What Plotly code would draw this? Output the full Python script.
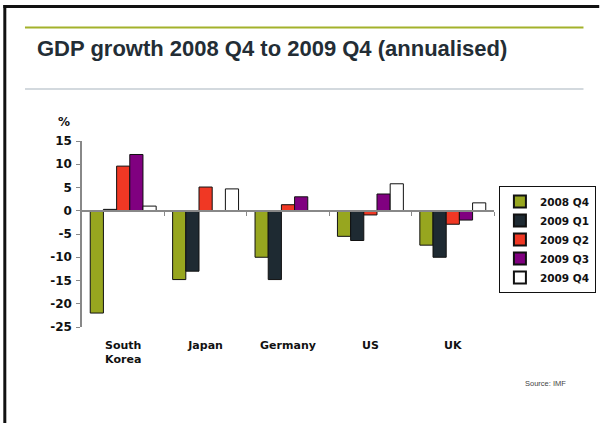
import plotly.graph_objects as go

# GDP growth, annualised, % (source: IMF)
countries = ["South<br>Korea", "Japan", "Germany", "US", "UK"]
quarters = ["2008 Q4", "2009 Q1", "2009 Q2", "2009 Q3", "2009 Q4"]
q4_2008 = [-22.0, -14.8, -10.0, -5.5, -7.4]
q1_2009 = [0.3, -13.0, -14.8, -6.4, -10.0]
q2_2009 = [9.6, 5.1, 1.3, -0.9, -2.9]
q3_2009 = [12.1, 0.0, 3.0, 3.6, -2.0]
q4_2009 = [1.0, 4.7, 0.0, 5.8, 1.7]
series = [q4_2008, q1_2009, q2_2009, q3_2009, q4_2009]
colors = ["#97a61f", "#1e2a32", "#f03824", "#800080", "#ffffff"]

y_ticks = [15, 10, 5, 0, -5, -10, -15, -20, -25]
y_range = [-25, 15]

W, H = 608, 423
L, R, T, B = 82, 107, 141, 96

fig = go.Figure()
for name, vals, col in zip(quarters, series, colors):
    fig.add_trace(go.Bar(
        x=countries, y=vals, name=name,
        marker=dict(color=col, line=dict(color="#111111", width=1)),
    ))

tick_font = dict(family="DejaVu Sans", size=12, color="#111111", weight="bold")

# zero line with category boundary ticks
zero_pos = (0 - y_range[0]) / (y_range[1] - y_range[0])
fig.add_trace(go.Scatter(x=[-0.5, 4.5], y=[0, 0], xaxis="x2", mode="lines",
                         line=dict(width=0), showlegend=False, hoverinfo="skip"))

fig.update_layout(
    width=W, height=H,
    margin=dict(l=L, r=R, t=T, b=B, pad=0),
    paper_bgcolor="white", plot_bgcolor="white",
    barmode="group", bargap=0.2, bargroupgap=0,
    showlegend=True,
    legend=dict(
        x=(506 - L) / (W - L - R), y=(H - B - 186) / (H - T - B),
        xref="paper", yref="paper", xanchor="left", yanchor="top",
        bordercolor="#111111", borderwidth=1, bgcolor="white",
        font=dict(family="DejaVu Sans", size=10.5, color="#111111", weight="bold"),
        tracegroupgap=0, itemsizing="constant",
    ),
    title=dict(
        text="GDP growth 2008 Q4 to 2009 Q4 (annualised)",
        xref="container", yref="container",
        x=37 / W, xanchor="left", y=1 - 48 / H, yanchor="middle",
        font=dict(family="Liberation Sans, Arial", size=22, color="#232d35", weight="bold"),
    ),
    xaxis=dict(
        type="category", showline=False, ticks="", showgrid=False, zeroline=False,
        tickfont=dict(family="DejaVu Sans", size=11, color="#111111", weight="bold"),
        ticklabelstandoff=10,
    ),
    xaxis2=dict(
        overlaying="x", anchor="free", position=zero_pos, range=[-0.5, 4.5],
        showline=True, linecolor="#888888", linewidth=1.5,
        ticks="outside", ticklen=4, tickcolor="#888888", tickwidth=1,
        tickvals=[0.5, 1.5, 2.5, 3.5, 4.5], showticklabels=False,
        showgrid=False, zeroline=False,
    ),
    yaxis=dict(
        range=y_range, tickvals=y_ticks, ticktext=[str(v) for v in y_ticks],
        showline=True, linecolor="#888888", linewidth=1.5,
        ticks="outside", ticklen=4, tickcolor="#888888",
        showgrid=False, zeroline=False, tickfont=tick_font, ticklabelstandoff=2,
    ),
)

px_x = lambda p: (p - L) / (W - L - R)
px_y = lambda p: (H - B - p) / (H - T - B)

# page frame and header rules
fig.add_shape(type="line", xref="paper", yref="paper", x0=px_x(2), x1=px_x(608),
              y0=px_y(6.5), y1=px_y(6.5), line=dict(color="#111111", width=3))
fig.add_shape(type="line", xref="paper", yref="paper", x0=px_x(3.5), x1=px_x(3.5),
              y0=px_y(5), y1=px_y(423), line=dict(color="#111111", width=3))
fig.add_shape(type="line", xref="paper", yref="paper", x0=px_x(24), x1=px_x(592),
              y0=px_y(27.5), y1=px_y(27.5), line=dict(color="#a3b22b", width=2))
fig.add_shape(type="line", xref="paper", yref="paper", x0=px_x(24), x1=px_x(592),
              y0=px_y(89), y1=px_y(89), line=dict(color="#c5ccd3", width=1.5))

fig.add_annotation(text="%", xref="paper", yref="paper", x=px_x(64), y=px_y(122),
                   xanchor="center", yanchor="middle", showarrow=False, font=tick_font)
fig.add_annotation(text="Source: IMF", xref="paper", yref="paper", x=px_x(553), y=px_y(383),
                   xanchor="center", yanchor="middle", showarrow=False,
                   font=dict(family="Liberation Sans, Arial", size=7.5, color="#444444"))

fig.write_html("out.html")
